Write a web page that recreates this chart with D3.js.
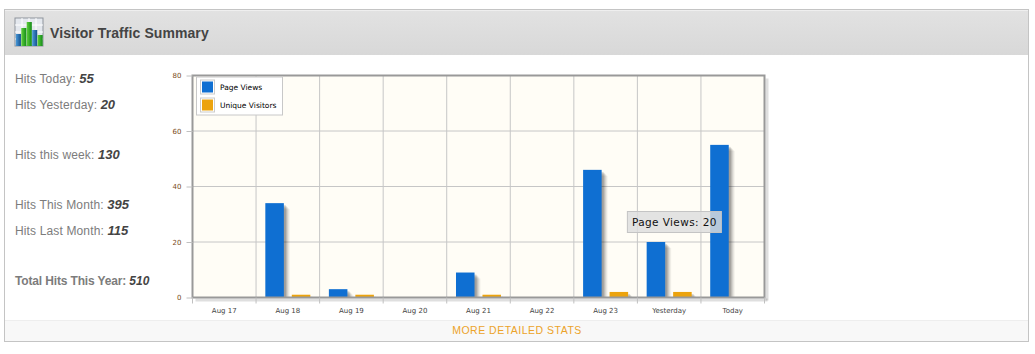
<!DOCTYPE html>
<html lang="en">
  <head>
    <meta charset="utf-8">
    <title>Visitor Traffic Summary</title>
    <style>
      body { margin: 0; background: #fff; overflow: hidden; }
      svg { display: block; font-family: "Liberation Sans", Arial, sans-serif; }
    </style>
    <script src="https://d3js.org/d3.v7.min.js"></script>
  </head>
  <body>
    <div class="chart"></div>
    <script>
    const days = ["Aug 17","Aug 18","Aug 19","Aug 20","Aug 21","Aug 22","Aug 23","Yesterday","Today"]
    const pageViews = [0,34,3,0,9,0,46,20,55]
    const uniqueVisitors = [0,1,1,0,1,0,2,2,0]
    const yTicks = [0,20,40,60,80]
    const seriesNames = ["Page Views","Unique Visitors"]
    const seriesColors = ["#0f6fd2","#eca30d"]

    const statLabels = ["Hits Today:","Hits Yesterday:","Hits this week:","Hits This Month:","Hits Last Month:","Total Hits This Year:"]
    const statValues = ["55","20","130","395","115","510"]
    const statRows = [83,109,159,209,235,285]

    const iconBars = [12,18,24,16,11]

    const margin = { top: 75.5, left: 192.5, bottom: 56.5, right: 270.5 },
      W = 1035, H = 354,
      width = W - margin.left - margin.right,
      height = H - margin.top - margin.bottom

    const svg = d3.select(".chart").append("svg").attr("width",W).attr("height",H)

    const defs = svg.append("defs")
    const hg = defs.append("linearGradient").attr("id","hd").attr("x1",0).attr("x2",0).attr("y1",0).attr("y2",1)
    hg.append("stop").attr("offset",0).attr("stop-color","#e2e2e2")
    hg.append("stop").attr("offset",1).attr("stop-color","#d8d8d8")
    const ig = defs.append("linearGradient").attr("id","ig").attr("x1",0).attr("x2",1).attr("y1",0).attr("y2",0)
    ig.append("stop").attr("offset",0).attr("stop-color","#5fd03a")
    ig.append("stop").attr("offset",1).attr("stop-color","#138a1a")
    const ib = defs.append("linearGradient").attr("id","ib").attr("x1",0).attr("x2",1).attr("y1",0).attr("y2",0)
    ib.append("stop").attr("offset",0).attr("stop-color","#4a9ad8")
    ib.append("stop").attr("offset",1).attr("stop-color","#14508f")

    // panel + header
    svg.append("rect").attr("x",4.5).attr("y",9.5).attr("width",1024).attr("height",332)
      .attr("fill","#fff").attr("stroke","#c4c4c4")
    svg.append("rect").attr("x",5).attr("y",10).attr("width",1023).attr("height",45).attr("fill","url(#hd)")
    svg.append("line").attr("x1",5).attr("x2",1028).attr("y1",10.5).attr("y2",10.5).attr("stroke","#efefef")
    svg.append("text").attr("x",50).attr("y",38).attr("fill","#444")
      .style("font-size","14px").style("font-weight","bold").style("letter-spacing","0.08px")
      .text("Visitor Traffic Summary")

    // icon
    const icon = svg.append("g").attr("transform","translate(15,18)")
    icon.append("rect").attr("width",28).attr("height",28).attr("fill","#e4e8ee").attr("stroke","#8d939b")
    icon.append("g").selectAll("line").data([7,14,21]).join("line")
      .attr("x1",d => d).attr("x2",d => d).attr("y1",0).attr("y2",28).attr("stroke","#fff")
    icon.append("g").selectAll("line").data([7,14,21]).join("line")
      .attr("y1",d => d).attr("y2",d => d).attr("x1",0).attr("x2",28).attr("stroke","#fff")
    const iconX = d3.scaleBand().domain(d3.range(iconBars.length)).range([0.5,28]).padding(0.06)
    const iconY = d3.scaleLinear().domain([0,28]).range([28,0])
    icon.selectAll("rect.b").data(iconBars).join("rect").attr("class","b")
      .attr("x",(d,i) => iconX(i)).attr("y",d => iconY(d))
      .attr("width",iconX.bandwidth()).attr("height",d => 28 - iconY(d))
      .attr("fill",(d,i) => i == 0 || i == 3 ? "url(#ib)" : "url(#ig)")

    // left column stats
    const stats = svg.append("g")
    statLabels.forEach((s,i) => {
      const last = i == 5
      const t = stats.append("text").attr("x",15).attr("y",statRows[i]).style("font-size","12px")
        .style("font-weight", last ? "bold" : "normal").attr("fill","#7c7c7c")
      t.append("tspan").style("letter-spacing", last ? "-0.15px" : "0.14px").text(s + " ")
      t.append("tspan").attr("fill","#444").style("font-size", last ? "12px" : "13px")
        .style("font-weight","bold").style("font-style","italic").text(statValues[i])
    })

    // footer bar
    svg.append("rect").attr("x",5).attr("y",320).attr("width",1023).attr("height",21).attr("fill","#f8f8f8")
    svg.append("line").attr("x1",5).attr("x2",1028).attr("y1",320.5).attr("y2",320.5).attr("stroke","#eee")
    svg.append("text").attr("x",517).attr("y",334).attr("text-anchor","middle").attr("fill","#eca32a")
      .style("font-size","10.5px").style("letter-spacing","0.5px").text("MORE DETAILED STATS")

    // chart
    const g = svg.append("g").attr("transform",`translate(${margin.left},${margin.top})`)

    const x = d3.scaleBand().domain(days).range([0,width])
    const x1 = d3.scaleBand().domain(seriesNames).range([0,x.bandwidth()]).paddingInner(0.3).paddingOuter(0.35)
    const y = d3.scaleLinear().domain([0,80]).range([height,0])

    g.append("rect").attr("width",width).attr("height",height).attr("fill","#fffdf6")

    g.append("g").selectAll("line").data(yTicks.slice(1,-1)).join("line")
      .attr("x1",0).attr("x2",width).attr("y1",d => y(d)).attr("y2",d => y(d)).attr("stroke","#c6c6c6")
    g.append("g").selectAll("line").data(days.slice(1)).join("line")
      .attr("x1",d => x(d)).attr("x2",d => x(d)).attr("y1",0).attr("y2",height).attr("stroke","#c6c6c6")

    const series = seriesNames.map((name,i) => ({ name, color: seriesColors[i], values: i ? uniqueVisitors : pageViews }))

    // drop shadows first so they sit behind the bars
    const shadows = [[6,"#0000000c"],[5,"#00000010"],[4,"#00000016"],[3,"#0000001c"],[2,"#00000022"]]
    shadows.forEach(s => {
      g.append("g").selectAll("rect")
        .data(series.flatMap(r => r.values.map((v,i) => ({ name: r.name, day: days[i], v }))).filter(d => d.v > 0))
        .join("rect")
        .attr("x",d => x(d.day) + x1(d.name) + s[0])
        .attr("y",d => Math.min(y(d.v) + s[0],height))
        .attr("width",x1.bandwidth())
        .attr("height",d => Math.max(height - y(d.v) - s[0],0))
        .attr("fill",s[1])
    })

    series.forEach(r => {
      g.append("g").selectAll("rect").data(r.values.map((v,i) => ({ v, day: days[i] })).filter(d => d.v > 0))
        .join("rect")
        .attr("x",d => x(d.day) + x1(r.name))
        .attr("y",d => y(d.v))
        .attr("width",x1.bandwidth())
        .attr("height",d => height - y(d.v))
        .attr("fill",r.color)
    })

    // frame with a soft shadow along bottom and right
    g.append("rect").attr("x",3).attr("y",height + 1).attr("width",width).attr("height",3).attr("fill","#00000020")
    g.append("rect").attr("x",width + 1).attr("y",3).attr("width",3).attr("height",height).attr("fill","#00000020")
    g.append("rect").attr("width",width).attr("height",height).attr("fill","none").attr("stroke","#999").attr("stroke-width",2)

    const xAxis = d3.axisBottom(x).tickSize(0)
    const xa = g.append("g").attr("transform",`translate(0,${height})`).call(xAxis)
    xa.select(".domain").remove()
    xa.selectAll("text").attr("y",13).attr("dy","0.35em").attr("fill","#444")
      .style("font-family","'DejaVu Sans',Verdana,sans-serif").style("font-size","7px")
    xa.append("g").selectAll("line").data(days.concat("end")).join("line")
      .attr("x1",d => d == "end" ? width : x(d)).attr("x2",d => d == "end" ? width : x(d))
      .attr("y1",0).attr("y2",6).attr("stroke","#c0c0c0")

    const yAxis = d3.axisLeft(y).tickValues(yTicks).tickSize(6).tickPadding(5)
    const ya = g.append("g").call(yAxis)
    ya.select(".domain").remove()
    ya.selectAll("line").attr("stroke","#c0c0c0")
    ya.selectAll("text").attr("fill","#7a4a20")
      .style("font-family","'DejaVu Sans',Verdana,sans-serif").style("font-size","7px")

    // legend
    const legend = g.append("g").attr("transform","translate(4,1.5)")
    legend.append("rect").attr("x",0).attr("y",0).attr("width",86).attr("height",38)
      .attr("fill","#fff").attr("stroke","#c8c8c8")
    seriesNames.forEach((name,i) => {
      const row = legend.append("g").attr("transform",`translate(4,${3 + i * 18})`)
      row.append("rect").attr("width",14).attr("height",14).attr("fill","#fff").attr("stroke","#ccc")
      row.append("rect").attr("x",1.5).attr("y",1.5).attr("width",11).attr("height",11).attr("fill",seriesColors[i])
      row.append("text").attr("x",19.5).attr("y",10).attr("fill","#000")
        .style("font-family","'DejaVu Sans',Verdana,sans-serif").style("font-size","7.5px").style("font-weight","500").text(name)
    })

    // hover tooltip, as captured
    const tip = g.append("g").attr("transform",`translate(${x("Yesterday") - 10.5},${y(20) - 31})`)
    tip.append("rect").attr("x",0.5).attr("y",0.5).attr("width",94).attr("height",21)
      .attr("fill","#dddddd").attr("fill-opacity",0.82).attr("stroke","#c4c4c4")
    tip.append("text").attr("x",5).attr("y",15).attr("fill","#111")
      .style("font-family","'DejaVu Sans',Verdana,sans-serif").style("font-size","10.5px").style("letter-spacing","0.4px")
      .text("Page Views: 20")
    </script>
  </body>
</html>
